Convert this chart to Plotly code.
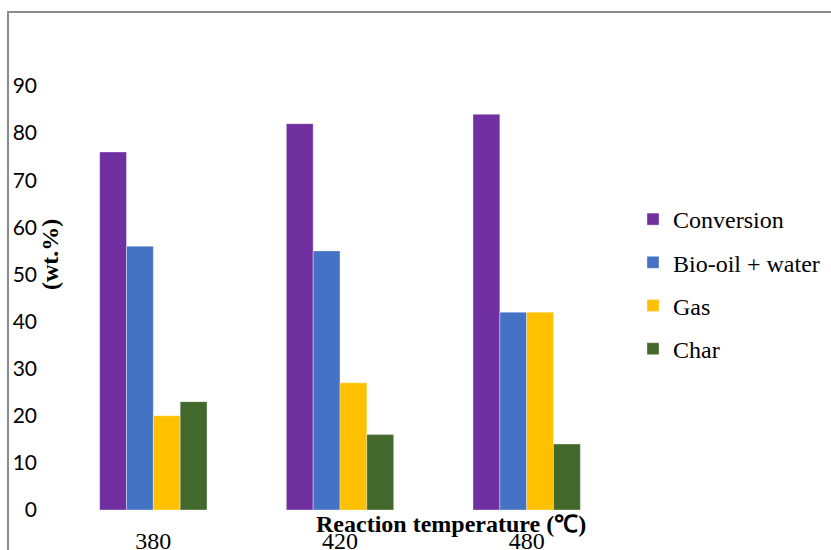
import plotly.graph_objects as go

# Product distribution at each reaction temperature
temperatures = ["380", "420", "480"]
conversion = [76, 82, 84]
bio_oil_water = [56, 55, 42]
gas = [20, 27, 42]
char = [23, 16, 14]

series = [
    ("Conversion", conversion, "#7030A0"),
    ("Bio-oil + water", bio_oil_water, "#4472C4"),
    ("Gas", gas, "#FFC000"),
    ("Char", char, "#43682B"),
]

serif = "Liberation Serif, Times New Roman, serif"

fig = go.Figure()
for name, vals, color in series:
    fig.add_trace(go.Bar(
        x=temperatures, y=vals, name=name, legendgroup=name,
        marker=dict(color=color, line=dict(color="rgba(255,255,255,0.45)", width=0.8)),
    ))

fig.update_layout(
    width=831, height=550,
    margin=dict(l=60, r=211, t=86, b=40),
    paper_bgcolor="white", plot_bgcolor="white",
    barmode="group", bargap=0.425, bargroupgap=0,
    showlegend=True,
    legend=dict(
        xref="container", yref="container",
        x=825 / 831, xanchor="right", y=(550 - 197) / 550, yanchor="top",
        font=dict(family=serif, size=24, color="black"),
        tracegroupgap=9, itemwidth=30,
        bgcolor="rgba(0,0,0,0)", borderwidth=0,
    ),
    xaxis=dict(
        type="category", showline=False, showgrid=False, ticks="",
        tickfont=dict(family=serif, size=24, color="black"),
        ticklabelstandoff=14, automargin=False,
    ),
    yaxis=dict(
        range=[0, 90], dtick=10, showline=False, showgrid=False, zeroline=False,
        ticks="", tickfont=dict(family="Lato, Calibri, sans-serif", size=21, color="black"),
        ticklabelstandoff=22, automargin=False,
    ),
    shapes=[dict(
        type="rect", xref="paper", yref="paper",
        x0=(8 - 60) / 560, x1=(840 - 60) / 560,
        y0=(510 - 560) / 424, y1=(510 - 12) / 424,
        line=dict(color="#8c8c8c", width=2), fillcolor="rgba(0,0,0,0)", layer="below",
    )],
    annotations=[
        dict(
            text="<b>Reaction temperature (℃)</b>", xref="paper", yref="paper",
            x=(451 - 60) / 560, y=0, yshift=-14, xanchor="center", yanchor="middle",
            showarrow=False, font=dict(family=serif, size=24, color="black"),
        ),
        dict(
            text="<b>(wt.%)</b>", xref="paper", yref="paper",
            x=(50 - 60) / 560, y=(510 - 255) / 424, xanchor="center", yanchor="middle",
            textangle=-90, showarrow=False, font=dict(family=serif, size=24, color="black"),
        ),
    ],
)

fig.write_html("out.html")
